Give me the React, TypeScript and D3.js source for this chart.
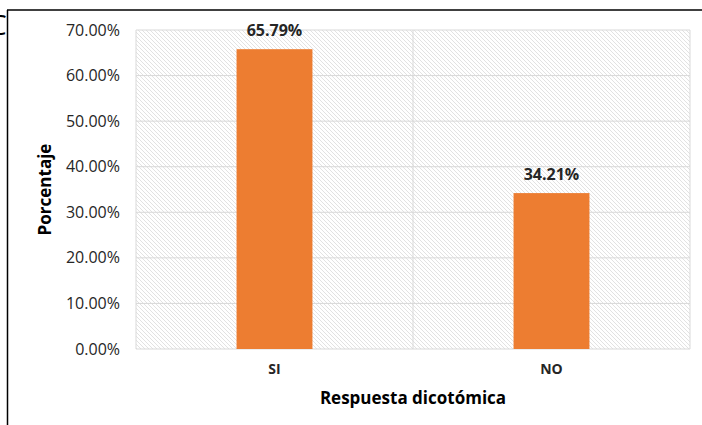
import React from "react";
import * as d3 from "d3";

const categories = ["SI", "NO"];
const values = [65.79, 34.21];
const yTicks = [0, 10, 20, 30, 40, 50, 60, 70];

const W = 702;
const H = 425;
const M = { left: 136, right: 690, top: 30, bottom: 349 };
const FONT = "'Open Sans', Calibri, sans-serif";

export default function App() {
  const x = d3
    .scaleBand<string>()
    .domain(categories)
    .range([M.left, M.right])
    .paddingInner(0.726)
    .paddingOuter(0.363);
  const xc = d3.scaleBand<string>().domain(categories).range([M.left, M.right]);
  const y = d3.scaleLinear().domain([0, 70]).range([M.bottom, M.top]);

  return (
    <svg
      width={W}
      height={H}
      style={{ position: "absolute", left: 0, top: 0, background: "#fff" }}
      fontFamily={FONT}
    >
      <defs>
        <pattern id="hatch" width="4" height="4" patternUnits="userSpaceOnUse">
          <rect width="4" height="4" fill="#ffffff" />
          <path d="M-1,-1 L5,5 M-1,3 L1,5 M3,-1 L5,1" stroke="#e2e2e2" strokeWidth="1" />
        </pattern>
      </defs>
      <rect x={0} y={0} width={W} height={H} fill="#fff" />
      {/* cut-off title letter */}
      <text x={-11} y={35} fontSize={28} fill="#000" fontFamily={FONT}>
        C
      </text>
      {/* outer frame */}
      <line x1={7.5} y1={10} x2={7.5} y2={H} stroke="#000" strokeWidth={1.5} />
      <line x1={7} y1={10} x2={W} y2={10} stroke="#000" strokeWidth={1.5} />

      {/* plot area */}
      <rect
        x={M.left}
        y={M.top}
        width={M.right - M.left}
        height={M.bottom - M.top}
        fill="url(#hatch)"
      />
      {yTicks.map((t) => (
        <line
          key={t}
          x1={M.left}
          x2={M.right}
          y1={y(t)}
          y2={y(t)}
          stroke="#d9d9d9"
          strokeWidth={1}
        />
      ))}
      {[M.left, ...categories.map((c) => (xc(c) as number) + xc.bandwidth())].map((v, i) => (
        <line key={i} x1={v} x2={v} y1={M.top} y2={M.bottom} stroke="#d9d9d9" strokeWidth={1} />
      ))}

      {categories.map((c, i) => (
        <rect
          key={c}
          x={x(c)}
          y={y(values[i])}
          width={x.bandwidth()}
          height={y(0) - y(values[i])}
          fill="#ED7D31"
        />
      ))}
      {categories.map((c, i) => (
        <text
          key={c}
          x={(x(c) as number) + x.bandwidth() / 2}
          y={y(values[i]) - 13}
          textAnchor="middle"
          fontSize={16}
          fontWeight="bold"
          fill="#262626"
        >
          {values[i].toFixed(2) + "%"}
        </text>
      ))}

      {yTicks.map((t) => (
        <text
          key={t}
          x={120}
          y={y(t)}
          dy="0.35em"
          textAnchor="end"
          fontSize={16}
          fill="#262626"
        >
          {t.toFixed(2) + "%"}
        </text>
      ))}
      {categories.map((c) => (
        <text
          key={c}
          x={(xc(c) as number) + xc.bandwidth() / 2}
          y={369}
          dy="0.35em"
          textAnchor="middle"
          fontSize={14}
          fontWeight="bold"
          fill="#262626"
        >
          {c}
        </text>
      ))}
      <text
        x={(M.left + M.right) / 2}
        y={398}
        dy="0.35em"
        textAnchor="middle"
        fontSize={17}
        fontWeight="bold"
        fill="#000"
      >
        Respuesta dicotómica
      </text>
      <text
        transform={`translate(45, ${(M.top + M.bottom) / 2}) rotate(-90)`}
        dy="0.35em"
        textAnchor="middle"
        fontSize={17}
        fontWeight="bold"
        fill="#000"
      >
        Porcentaje
      </text>
    </svg>
  );
}
